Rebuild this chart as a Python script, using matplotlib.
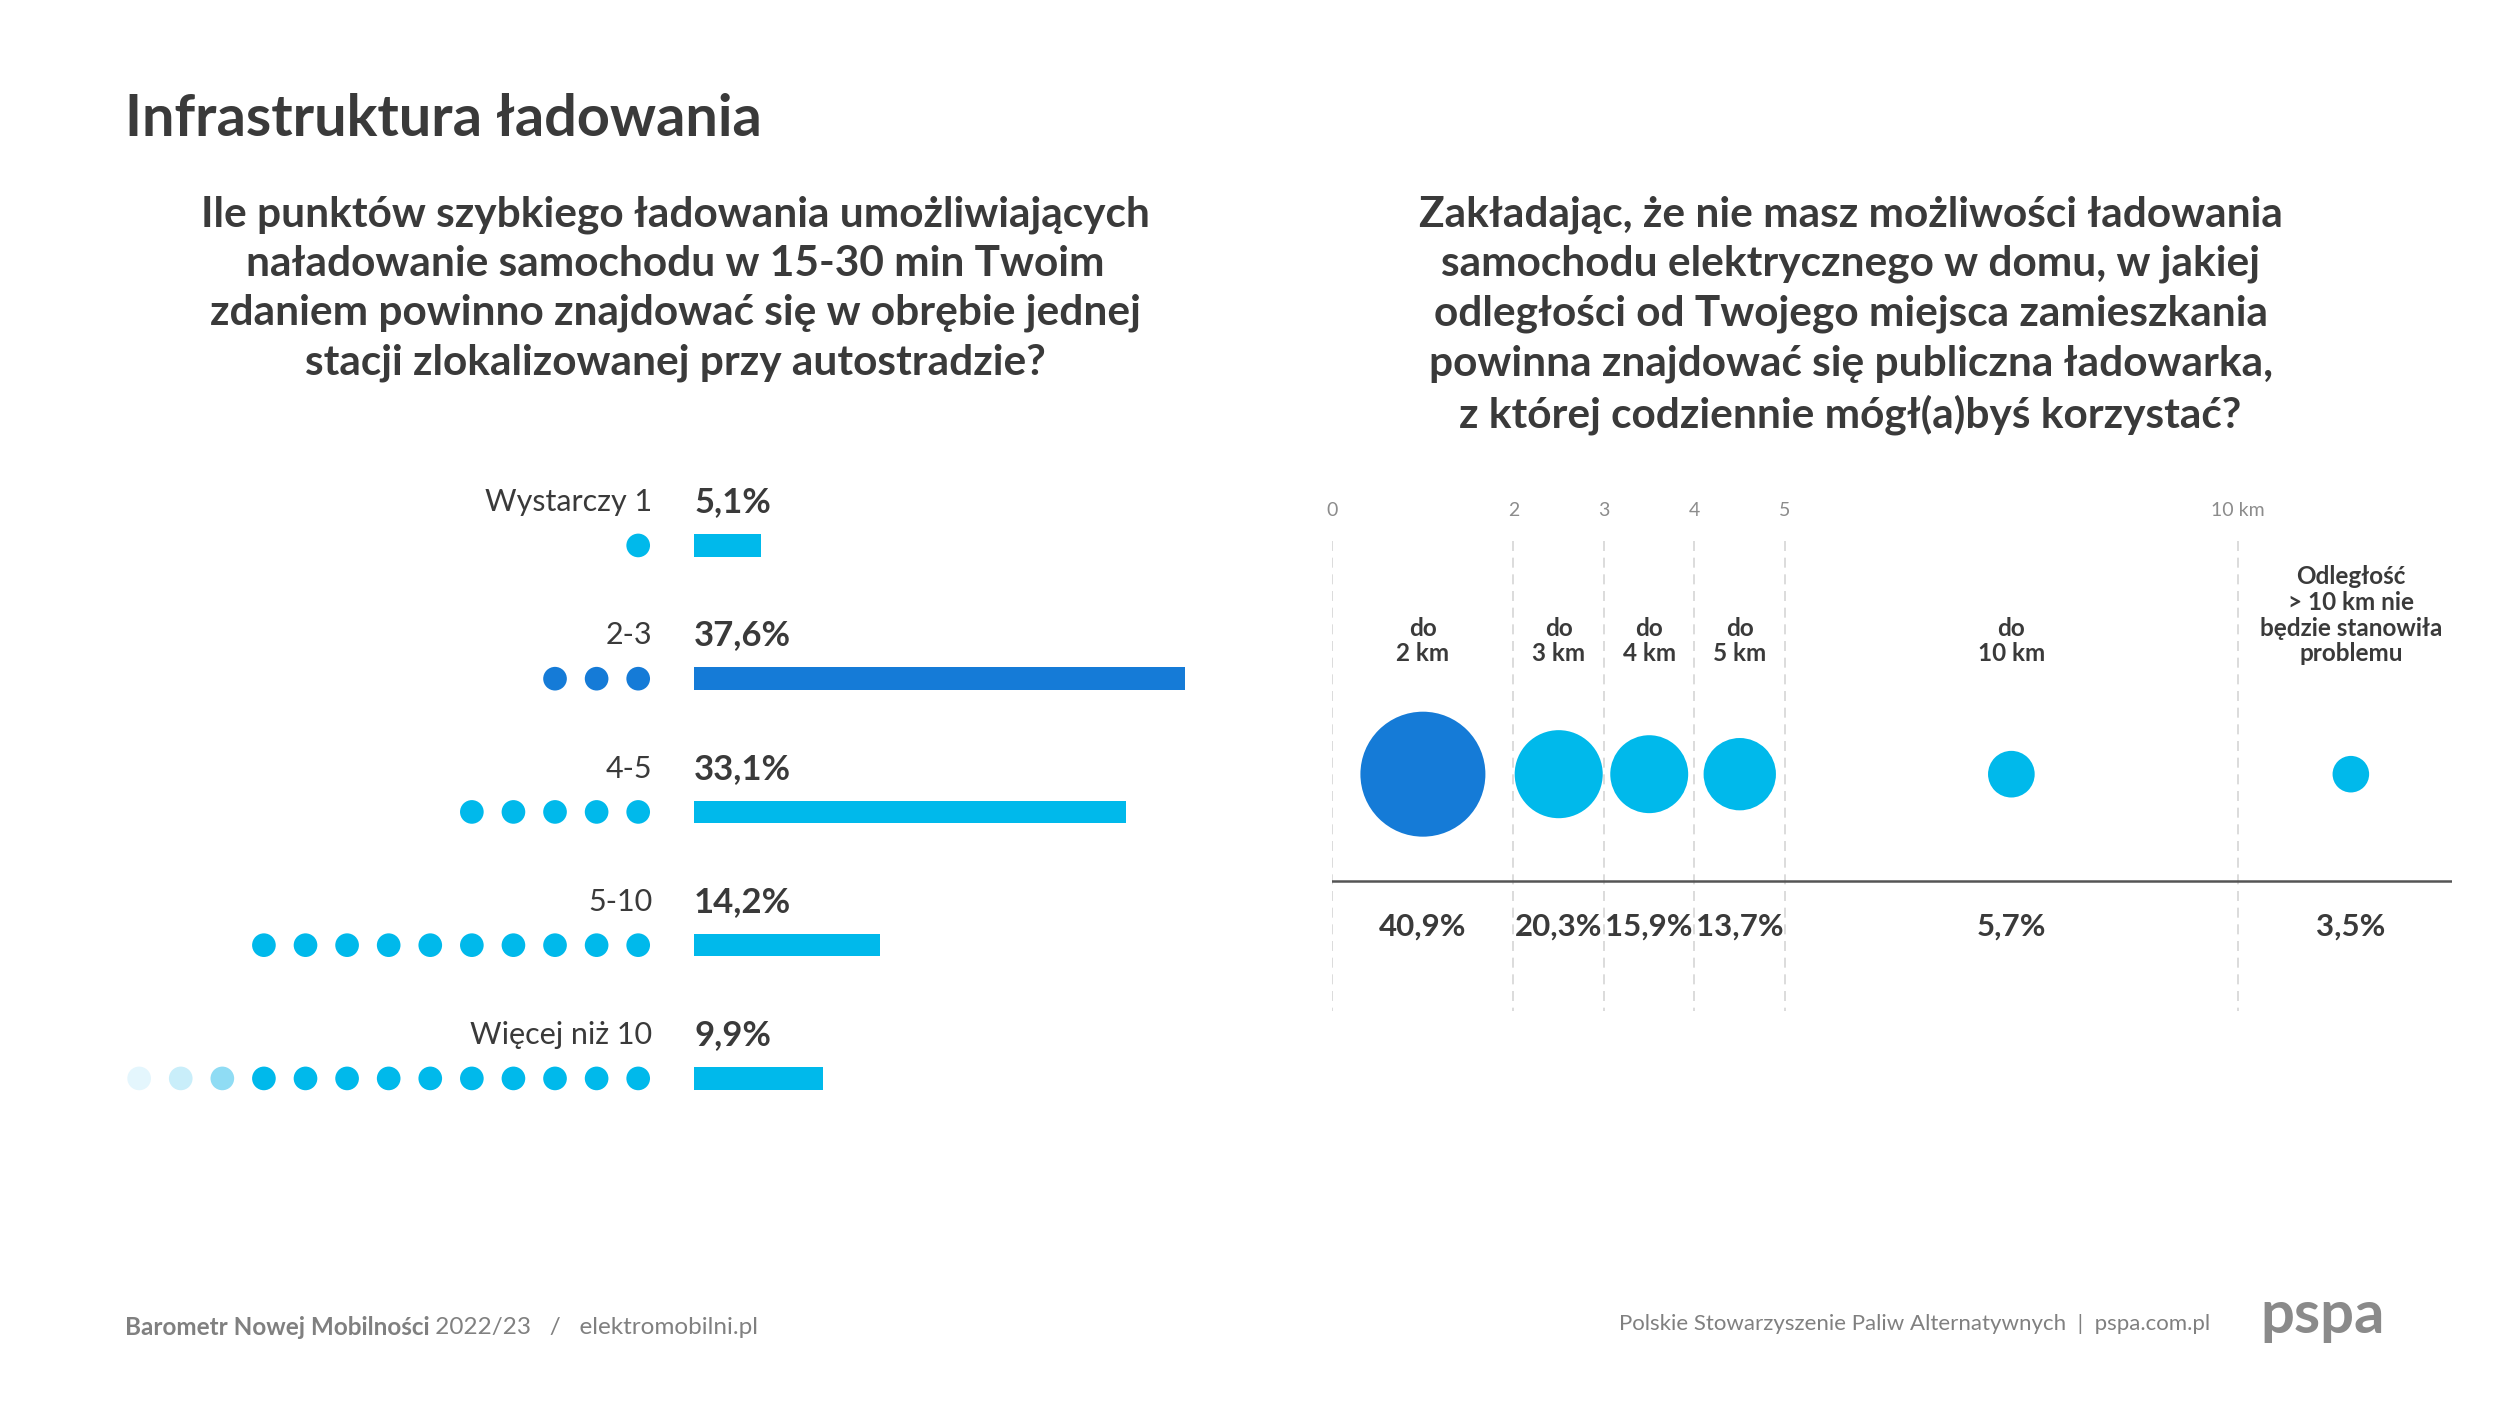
import matplotlib.pyplot as plt
import numpy as np

plt.rcParams['font.family'] = ['Lato', 'DejaVu Sans']

# reference layout grid (design px), converted to figure fractions below
W, H = 1563.0, 879.0


def fx(x):
    return x / W


def fy(y):
    return 1 - y / H


DARK = "#3a3a3a"
GREY = "#808080"
LIGHT_BLUE = "#00b9eb"
DARK_BLUE = "#157bd7"

title = "Infrastruktura ładowania"
left_question = ("Ile punktów szybkiego ładowania umożliwiających\n"
                 "naładowanie samochodu w 15-30 min Twoim\n"
                 "zdaniem powinno znajdować się w obrębie jednej\n"
                 "stacji zlokalizowanej przy autostradzie?")
right_question = ("Zakładając, że nie masz możliwości ładowania\n"
                  "samochodu elektrycznego w domu, w jakiej\n"
                  "odległości od Twojego miejsca zamieszkania\n"
                  "powinna znajdować się publiczna ładowarka,\n"
                  "z której codziennie mógł(a)byś korzystać?")

# left chart: number of fast chargers
points_labels = ["Wystarczy 1", "2-3", "4-5", "5-10", "Więcej niż 10"]
points_values = [5.1, 37.6, 33.1, 14.2, 9.9]
points_dots = [1, 3, 5, 10, 13]

# right chart: acceptable distance
dist_labels = ["do\n2 km", "do\n3 km", "do\n4 km", "do\n5 km", "do\n10 km",
               "Odległość\n> 10 km nie\nbędzie stanowiła\nproblemu"]
dist_values = [40.9, 20.3, 15.9, 13.7, 5.7, 3.5]
dist_bounds = [0, 2, 3, 4, 5, 10, 12.5]
dist_ticks = [0, 2, 3, 4, 5, 10]
dist_tick_labels = ["0", "2", "3", "4", "5", "10 km"]


def pct(v):
    return f"{v:.1f}".replace(".", ",") + "%"


fig = plt.figure(figsize=(25, 14.06), dpi=100)
bg = fig.add_axes([0, 0, 1, 1])
bg.set_xlim(0, 1)
bg.set_ylim(0, 1)
bg.axis("off")

fig.text(fx(78), fy(75), title, fontsize=41.5, fontweight="bold", color=DARK,
         ha="left", va="center")
fig.text(fx(422), fy(122), left_question, fontsize=30.5, fontweight="bold",
         color=DARK, ha="center", va="top", linespacing=1.36)
fig.text(fx(1157), fy(122), right_question, fontsize=30.5, fontweight="bold",
         color=DARK, ha="center", va="top", linespacing=1.36)

# ---- left chart ----
px_per_pct = 8.16
bar_x0 = 434
row_step = 83.3
row0 = 341
ax1 = fig.add_axes([fx(70), fy(700), (780 - 70) / W, (700 - 290) / H])
ax1.set_xlim((70 - bar_x0) / px_per_pct, (780 - bar_x0) / px_per_pct)
ax1.set_ylim((700 - row0) / row_step, (290 - row0) / row_step)
ax1.axis("off")

ymax = max(points_values)
bar_colors = [DARK_BLUE if v == ymax else LIGHT_BLUE for v in points_values]
ypos = np.arange(len(points_values))
ax1.barh(ypos, points_values, height=0.17, color=bar_colors, left=0)

dot_x0 = (399 - bar_x0) / px_per_pct
dot_step = 26 / px_per_pct
fade = {10: "#8fdcf4", 11: "#c9eefa", 12: "#e4f6fd"}
lab_off = 27 / row_step
for i, (lab, v, n) in enumerate(zip(points_labels, points_values, points_dots)):
    k = np.arange(n)
    xs = dot_x0 - dot_step * k
    cols = [fade.get(j, bar_colors[i]) for j in k]
    ax1.scatter(xs, np.full(n, i), s=290, c=cols, edgecolors="none", zorder=3)
    ax1.text((408 - bar_x0) / px_per_pct, i - lab_off, lab, ha="right",
             va="center", fontsize=22, color=DARK)
    ax1.text(0, i - lab_off, pct(v), ha="left", va="center", fontsize=25,
             fontweight="bold", color=DARK)

# ---- right chart ----
km_px = 56.6
ax2 = fig.add_axes([fx(833), fy(640), (1533 - 833) / W, (640 - 300) / H])
ax2.set_xlim(0, (1533 - 833) / km_px)
ax2.set_ylim(640, 300)
ax2.axis("off")

ax2.vlines(dist_ticks, 338, 632, colors="#d5d5d5", linewidth=1.2,
           linestyles=(0, (6, 4)))
for t, tl in zip(dist_ticks, dist_tick_labels):
    ax2.text(t, 319, tl, ha="center", va="center", fontsize=14, color="#8c8c8c")
ax2.axhline(551, color="#555555", linewidth=1.8)

bounds = np.array(dist_bounds)
mids = (bounds[:-1] + bounds[1:]) / 2
vmax = max(dist_values)
bub_colors = [DARK_BLUE if v == vmax else LIGHT_BLUE for v in dist_values]
ax2.scatter(mids, np.full(len(mids), 484), s=np.array(dist_values) * 198,
            c=bub_colors, edgecolors="none", zorder=3)
for m, lab, v in zip(mids, dist_labels, dist_values):
    ax2.text(m, 416, lab, ha="center", va="bottom", fontsize=17.5,
             fontweight="bold", color=DARK, linespacing=1.15)
    ax2.text(m, 579, pct(v), ha="center", va="center", fontsize=22.5,
             fontweight="bold", color=DARK)

# ---- footer ----
t1 = bg.text(fx(78), fy(830), "Barometr Nowej Mobilności", fontsize=17.5,
             fontweight="bold", color=GREY, ha="left", va="center")
bg.annotate(" 2022/23   /   elektromobilni.pl", xy=(1, 0.5), xycoords=t1,
            fontsize=17.5, color=GREY, ha="left", va="center")
bg.text(fx(1382), fy(828), "Polskie Stowarzyszenie Paliw Alternatywnych  |  pspa.com.pl",
        fontsize=16, color=GREY, ha="right", va="center")
bg.text(fx(1413), fy(823), "pspa", fontsize=43, fontweight="bold", color="#8a8a8a",
        ha="left", va="center")

fig.savefig("out.png", dpi=100, facecolor="white")
